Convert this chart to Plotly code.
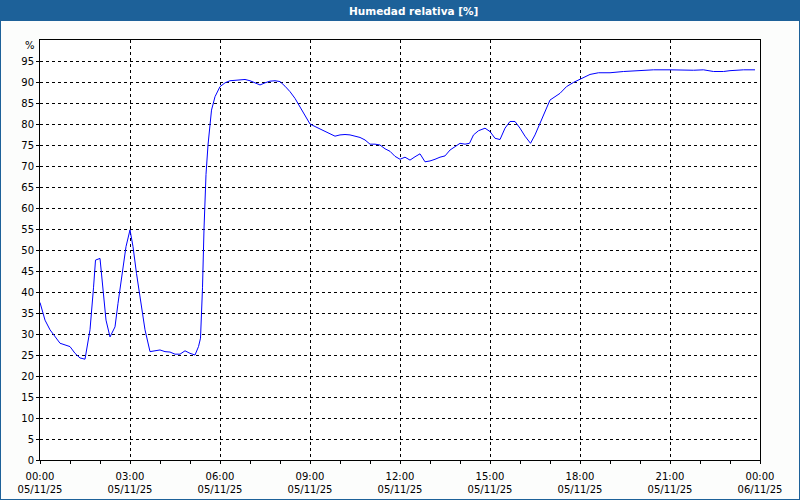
import pandas as pd
import plotly.graph_objects as go

# minutes since 05/11/25 00:00
minutes = [0, 10, 20, 30, 40, 50, 60, 70, 80, 90, 100, 107, 111, 120, 126, 132, 140, 150,
           156, 163, 172, 180, 186, 193, 200, 210, 220, 230, 240, 250, 260, 270, 280, 290,
           300, 310, 317, 321, 325, 328, 332, 336, 340, 343, 350, 360, 370, 380, 400, 410,
           420, 430, 440, 450, 460, 470, 480, 490, 500, 510, 520, 530, 540, 550, 560, 570,
           580, 590, 600, 610, 620, 630, 640, 650, 660, 670, 680, 690, 700, 710, 720, 730,
           740, 750, 760, 770, 780, 790, 800, 810, 820, 830, 840, 850, 859, 867, 877, 890,
           900, 910, 920, 930, 940, 950, 960, 970, 981, 990, 1000, 1010, 1020, 1040, 1053,
           1067, 1080, 1090, 1100, 1117, 1140, 1167, 1197, 1227, 1260, 1277, 1307, 1327,
           1333, 1347, 1367, 1380, 1407, 1430]
humidity = [37.5, 33.3, 31.0, 29.4, 27.8, 27.4, 27.0, 25.4, 24.3, 24.0, 31.0, 41.0, 47.6, 48.0,
            41.0, 33.3, 29.3, 31.7, 37.3, 42.9, 50.8, 54.8, 50.8, 44.4, 38.9, 31.0, 25.8, 26.0,
            26.2, 25.8, 25.7, 25.2, 25.2, 26.0, 25.4, 25.0, 27.0, 29.0, 41.0, 55.0, 68.0, 75.0,
            80.2, 83.3, 86.5, 88.9, 89.8, 90.3, 90.5, 90.6, 90.3, 89.8, 89.3, 89.8, 90.2, 90.3,
            90.1, 89.0, 87.7, 86.1, 84.1, 82.1, 80.0, 79.4, 78.8, 78.2, 77.6, 77.1, 77.4, 77.5,
            77.4, 77.1, 76.8, 76.2, 75.2, 75.2, 75.0, 74.1, 73.5, 72.3, 71.6, 72.1, 71.4, 72.2,
            72.9, 71.0, 71.2, 71.6, 72.1, 72.4, 73.8, 74.6, 75.4, 75.2, 75.4, 77.4, 78.4, 79.0,
            78.2, 76.6, 76.3, 79.0, 80.6, 80.6, 79.0, 77.1, 75.4, 77.4, 80.2, 83.3, 85.7, 87.3,
            88.9, 89.9, 90.6, 91.3, 91.8, 92.2, 92.2, 92.5, 92.7, 92.9, 92.9, 92.8, 92.8, 92.9,
            92.8, 92.5, 92.5, 92.7, 92.9, 92.9]

tick_times = ["2025-11-05 00:00", "2025-11-05 03:00", "2025-11-05 06:00", "2025-11-05 09:00",
              "2025-11-05 12:00", "2025-11-05 15:00", "2025-11-05 18:00", "2025-11-05 21:00",
              "2025-11-06 00:00"]
tick_labels = ["00:00<br>05/11/25", "03:00<br>05/11/25", "06:00<br>05/11/25",
               "09:00<br>05/11/25", "12:00<br>05/11/25", "15:00<br>05/11/25",
               "18:00<br>05/11/25", "21:00<br>05/11/25", "00:00<br>06/11/25"]
y_ticks = list(range(0, 100, 5))
title_text = "Humedad relativa [%]"

start = pd.Timestamp("2025-11-05 00:00")
times = [start + pd.Timedelta(minutes=m) for m in minutes]

BLUE_BAR = "#1d6199"
FONT = "DejaVu Sans"

fig = go.Figure()
fig.add_trace(go.Scatter(x=times, y=humidity, mode="lines",
                         line=dict(color="#0000ff", width=1), hoverinfo="skip"))

fig.update_layout(
    width=800, height=500,
    margin=dict(l=40, r=40, t=40, b=40, autoexpand=False),
    paper_bgcolor="#fcfdfc", plot_bgcolor="#ffffff",
    showlegend=False,
    font=dict(family=FONT, size=10, color="#000000"),
    xaxis=dict(
        type="date",
        range=["2025-11-05 00:00", "2025-11-06 00:00"],
        tickmode="array", tickvals=tick_times, ticktext=tick_labels,
        ticks="outside", ticklen=3, tickcolor="#000000", tickwidth=1,
        ticklabelstandoff=4,
        showgrid=True, gridcolor="#000000", gridwidth=1, griddash="3px,3px",
        showline=True, linecolor="#000000", linewidth=1, mirror=True,
        minor=dict(dtick=3600000, ticks="outside", ticklen=3, tickcolor="#000000",
                   showgrid=False),
        zeroline=False, fixedrange=True, automargin=False,
    ),
    yaxis=dict(
        range=[0, 100],
        tickmode="array", tickvals=y_ticks,
        ticks="outside", ticklen=3, tickcolor="#000000", tickwidth=1,
        showgrid=True, gridcolor="#000000", gridwidth=1, griddash="3px,3px",
        showline=True, linecolor="#000000", linewidth=1, mirror=True,
        zeroline=False, fixedrange=True, automargin=False,
    ),
    shapes=[
        # title bar
        dict(type="rect", xref="paper", yref="paper",
             x0=-40 / 720, x1=760 / 720, y0=439 / 420, y1=460 / 420,
             fillcolor=BLUE_BAR, line=dict(width=0), layer="above"),
        # outer border
        dict(type="line", xref="paper", yref="paper",
             x0=-39.5 / 720, x1=-39.5 / 720, y0=-39.5 / 420, y1=460 / 420,
             line=dict(color=BLUE_BAR, width=1)),
        dict(type="line", xref="paper", yref="paper",
             x0=759.5 / 720, x1=759.5 / 720, y0=-39.5 / 420, y1=460 / 420,
             line=dict(color=BLUE_BAR, width=1)),
        dict(type="line", xref="paper", yref="paper",
             x0=-40 / 720, x1=760 / 720, y0=-39.5 / 420, y1=-39.5 / 420,
             line=dict(color=BLUE_BAR, width=1)),
    ],
    annotations=[
        dict(text="<b>" + title_text + "</b>", xref="paper", yref="paper",
             x=(413.5 - 40) / 720, y=449.5 / 420, xanchor="center", yanchor="middle",
             showarrow=False, font=dict(family=FONT, size=10.5, color="#ffffff")),
        dict(text="%", xref="paper", yref="y", x=0, y=98.8, xanchor="right",
             yanchor="middle", xshift=-3, showarrow=False,
             font=dict(family=FONT, size=10, color="#000000")),
    ],
)

fig.write_html("out.html", config={"displayModeBar": False},
               post_script="document.body.style.margin='0';document.body.style.overflow='hidden';")
